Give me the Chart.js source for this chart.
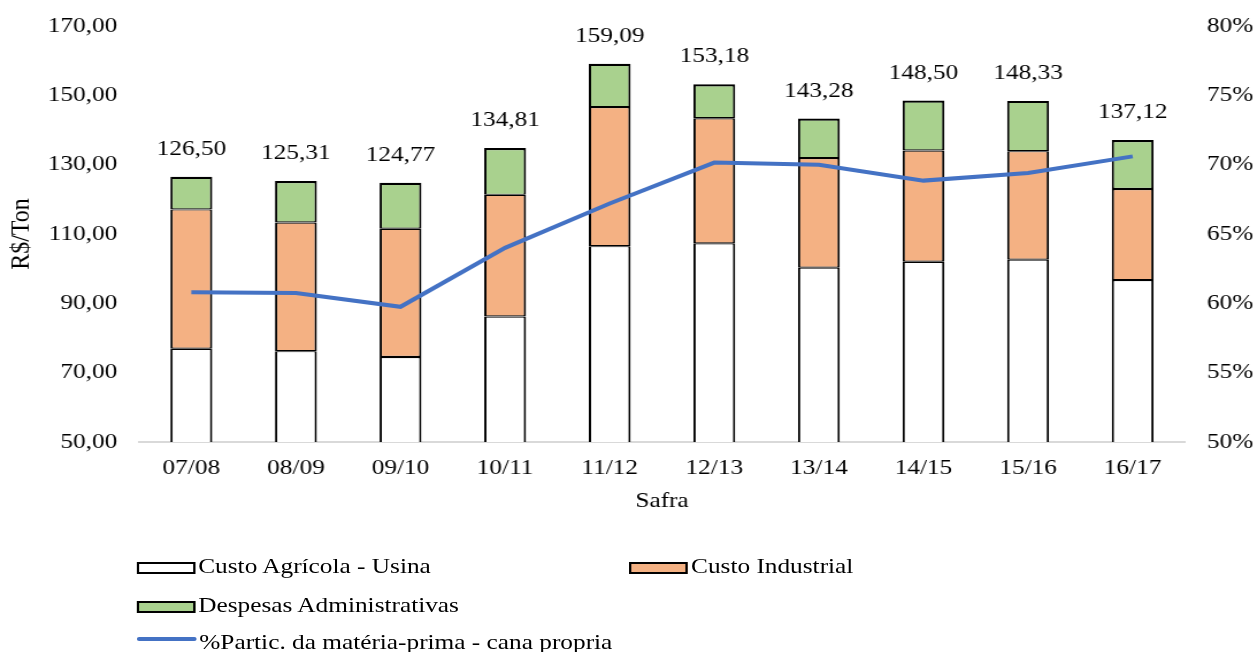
<!DOCTYPE html>
<html>
<head>
<meta charset="utf-8">
<script src="https://cdn.jsdelivr.net/npm/chart.js@4.4.0/dist/chart.umd.min.js"></script>
<style>
  html, body { margin: 0; padding: 0; background: #fff; overflow: hidden; width: 1257px; height: 652px; }
  #wrap { position: absolute; left: 0; top: 0; width: 1093px; height: 652px; transform: scaleX(1.15); transform-origin: 0 0; }
  #c { position: absolute; left: 0; top: 0; }
  .lg { position: absolute; font-family: "Liberation Serif", "Times New Roman", serif; font-size: 22px; line-height: 26px; color: #000; white-space: nowrap; }
  .box { position: absolute; box-sizing: border-box; border: 2px solid #000; height: 12px; width: 51px; }
  .ln { position: absolute; height: 4px; width: 52px; border-radius: 2px; }
</style>
</head>
<body>
<div id="wrap">
  <canvas id="c" width="1093" height="652"></canvas>
  <div id="legend"></div>
</div>
<script>
const categories = ["07/08", "08/09", "09/10", "10/11", "11/12", "12/13", "13/14", "14/15", "15/16", "16/17"];
const custoAgricola = [76.9, 76.2, 74.5, 86.2, 106.5, 107.3, 100.3, 102.0, 102.6, 96.7];
const custoIndustrial = [40.2, 37.1, 37.0, 35.1, 40.1, 36.1, 31.6, 32.1, 31.3, 26.3];
const despesasAdm = [9.4, 12.0, 13.3, 13.5, 12.5, 9.8, 11.4, 14.4, 14.5, 14.1];
const totals = [126.50, 125.31, 124.77, 134.81, 159.09, 153.18, 143.28, 148.50, 148.33, 137.12];
const particMateriaPrima = [60.8, 60.75, 59.75, 64.0, 67.2, 70.15, 70.0, 68.85, 69.4, 70.6];
const leftTicks = [50, 70, 90, 110, 130, 150, 170];
const rightTicks = [50, 55, 60, 65, 70, 75, 80];

const FONT = "'Liberation Serif', 'Times New Roman', serif";
const fmt = v => v.toFixed(2).replace('.', ',');

const totalLabels = {
  id: 'totalLabels',
  afterDatasetsDraw(chart) {
    const ctx = chart.ctx;
    const meta = chart.getDatasetMeta(3);
    ctx.save();
    ctx.font = "22px " + FONT;
    ctx.fillStyle = '#000';
    ctx.textAlign = 'center';
    ctx.textBaseline = 'alphabetic';
    meta.data.forEach((el, i) => {
      ctx.fillText(fmt(totals[i]), el.x, el.y - 22);
    });
    ctx.restore();
  }
};

const chart = new Chart(document.getElementById('c'), {
  type: 'bar',
  data: {
    labels: categories,
    datasets: [
      { type: 'line', label: '%Partic. da matéria-prima - cana propria', data: particMateriaPrima, yAxisID: 'y2',
        borderColor: '#4472C4', backgroundColor: '#4472C4', borderWidth: 4, pointRadius: 0, tension: 0, order: 0 },
      { label: 'Custo Agrícola - Usina', data: custoAgricola, backgroundColor: '#FFFFFF', borderColor: '#000',
        borderWidth: { left: 2, right: 2, top: 1.2, bottom: 0 }, borderSkipped: false, stack: 's', order: 1 },
      { label: 'Custo Industrial', data: custoIndustrial, backgroundColor: '#F4B183', borderColor: '#000',
        borderWidth: { left: 2, right: 2, top: 1.2, bottom: 1.2 }, borderSkipped: false, stack: 's', order: 1 },
      { label: 'Despesas Administrativas', data: despesasAdm, backgroundColor: '#A9D18E', borderColor: '#000',
        borderWidth: { left: 2, right: 2, top: 2.2, bottom: 1.2 }, borderSkipped: false, stack: 's', order: 1 }
    ]
  },
  options: {
    responsive: false,
    animation: false,
    devicePixelRatio: 1,
    layout: { padding: { top: 26, left: 0, right: 0, bottom: 0 } },
    datasets: { bar: { categoryPercentage: 1.0, barPercentage: 0.40 } },
    plugins: { legend: { display: false }, tooltip: { enabled: false } },
    scales: {
      x: {
        stacked: true,
        grid: { display: false, drawTicks: false },
        border: { display: true, color: '#D9D9D9', width: 2 },
        ticks: { color: '#000', font: { family: FONT, size: 22 }, padding: 13, maxRotation: 0 },
        title: { display: true, text: 'Safra', color: '#000', font: { family: FONT, size: 22 }, padding: { top: 0, bottom: 137.8 } },
        afterFit(s) { s.height = 210; }
      },
      y: {
        stacked: true, position: 'left', min: 50, max: 170,
        grid: { display: false, drawTicks: false },
        border: { display: false },
        afterBuildTicks(s) { s.ticks = leftTicks.map(v => ({ value: v })); },
        ticks: { color: '#000', font: { family: FONT, size: 22 }, padding: 19, callback: v => fmt(v) },
        title: { display: true, text: 'R$/Ton', color: '#000', font: { family: FONT, size: 24 }, padding: { top: 4, bottom: 0 } },
        afterFit(s) { s.width = 120.9; s.paddingTop = 0; s.paddingBottom = 0; }
      },
      y2: {
        position: 'right', min: 50, max: 80,
        grid: { display: false, drawTicks: false },
        border: { display: false },
        afterBuildTicks(s) { s.ticks = rightTicks.map(v => ({ value: v })); },
        ticks: { color: '#000', font: { family: FONT, size: 22 }, padding: 19, callback: v => v + '%' },
        afterFit(s) { s.width = 62.6; s.paddingTop = 0; s.paddingBottom = 0; }
      }
    }
  },
  plugins: [totalLabels]
});

// HTML legend built from the chart's datasets
const lg = document.getElementById('legend');
const pos = [
  { ds: 1, bx: 118.8, by: 561.5, tx: 172.4, ty: 553 },
  { ds: 2, bx: 547.2, by: 561.5, tx: 600.9, ty: 553 },
  { ds: 3, bx: 118.8, by: 600.5, tx: 172.4, ty: 592 },
  { ds: 0, bx: 118.8, by: 636.5, tx: 173.3, ty: 629 }
];
pos.forEach(p => {
  const d = chart.data.datasets[p.ds];
  const m = document.createElement('div');
  if (d.type === 'line') {
    m.className = 'ln';
    m.style.background = d.borderColor;
  } else {
    m.className = 'box';
    m.style.background = d.backgroundColor;
  }
  m.style.left = p.bx + 'px';
  m.style.top = p.by + 'px';
  lg.appendChild(m);
  const t = document.createElement('div');
  t.className = 'lg';
  t.textContent = d.label;
  t.style.left = p.tx + 'px';
  t.style.top = p.ty + 'px';
  lg.appendChild(t);
});
</script>
</body>
</html>
